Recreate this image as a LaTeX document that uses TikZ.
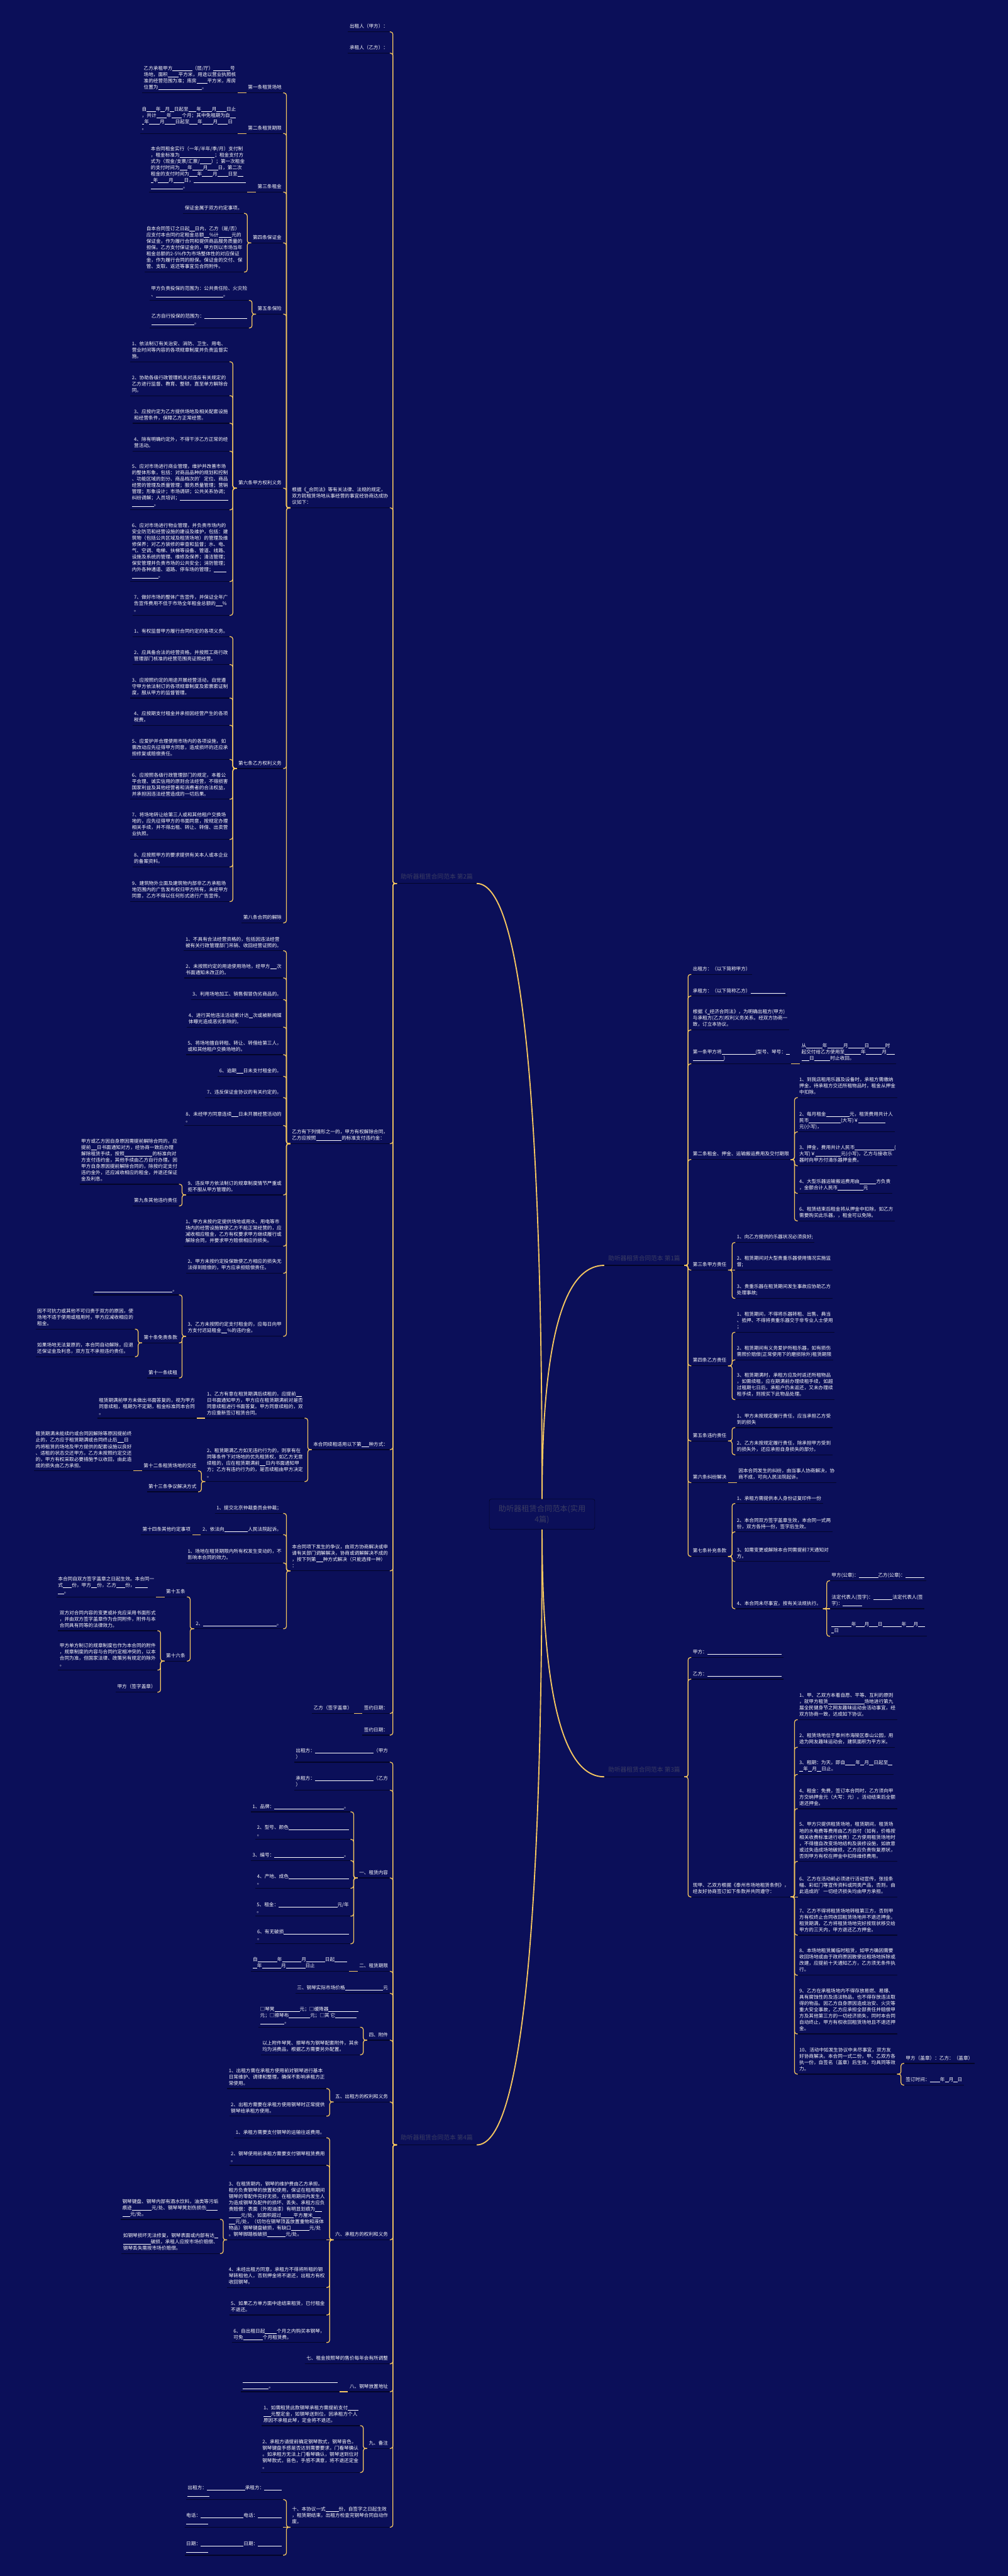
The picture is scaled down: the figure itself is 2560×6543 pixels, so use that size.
\documentclass[tikz,border=0pt]{standalone}
\usepackage{fontspec}
\setmainfont{Noto Sans CJK SC}
\usetikzlibrary{calc}

\definecolor{bgnavy}{RGB}{11,15,89}
\definecolor{gold}{RGB}{246,199,96}
\definecolor{ulnavy}{RGB}{3,5,40}
\definecolor{dimtxt}{RGB}{58,60,98}
\newcommand{\leaffont}{\fontsize{12.2pt}{16pt}\selectfont}
\newcommand{\blnk}[1]{\rule[-1.6pt]{#1pt}{0.8pt}}
\newcommand{\lk}[2]{\draw[link] (#1.south west) -- ++(-10,0) |- (#2.south east);}
\newcommand{\rk}[2]{\draw[link] (#1.south east) -- ++(10,0) |- (#2.south west);}

\begin{document}
\begin{tikzpicture}[x=1pt, y=-1pt,
  uline/.style ={append after command={(\tikzlastnode.south west) edge[draw=ulnavy, line width=2pt] (\tikzlastnode.south east)}},
  leafL/.style ={font=\leaffont, text=white, align=left, inner xsep=4pt, inner ysep=7pt, text depth=2pt, anchor=south east, uline},
  leafR/.style ={leafL, anchor=south west},
  branch/.style={font=\fontsize{15.5pt}{19pt}\selectfont, text=dimtxt, inner xsep=10pt, inner ysep=10pt, text depth=2pt, anchor=south west, uline},
  hub/.style   ={draw=ulnavy, fill=bgnavy, rounded corners=5pt, line width=1pt, font=\fontsize{19.5pt}{27pt}\selectfont, text=dimtxt, align=center, minimum width=268pt, minimum height=77pt},
  link/.style  ={draw=gold, line width=2pt, rounded corners=6pt},
  trunk/.style ={draw=gold, line width=3pt}
]
\fill[bgnavy] (0,0) rectangle (2560,6543);
\useasboundingbox (0,0) rectangle (2560,6543);

% root and the four articles
\node[hub] (root) at (1377,3846) {助听器租赁合同范本(实用\\4篇)};
\node[branch] (L2) at (1008,2244) {助听器租赁合同范本 第2篇};
\node[branch] (L1) at (1535,3214) {助听器租赁合同范本 第1篇};
\node[branch] (L3) at (1535,4513) {助听器租赁合同范本 第3篇};
\node[branch] (L4) at (1008,5448) {助听器租赁合同范本 第4篇};

% ---------------- 第2篇 (left, top)
\coordinate (L2x) at ([xshift=-18pt]L2.south west);
\node[leafL] (a1) at (L2x |- 0,81) {出租人（甲方）：};
\node[leafL] (a2) at (L2x |- 0,135) {承租人（乙方）：};
\node[leafL] (a3) at (L2x |- 0,1290) {根据《\blnk{6}合同法》等有关法律、法规的规定，\\双方就租赁场地从事经营的事宜经协商达成协\\议如下：};
\node[leafL] (a4) at (L2x |- 0,2905) {乙方有下列情形之一的，甲方有权解除合同，\\乙方应按照\blnk{65}的标准支付违约金：};
\node[leafL] (a5) at (L2x |- 0,3682) {本合同续租适用以下第\blnk{19}种方式：};
\node[leafL] (a6) at (L2x |- 0,3990) {本合同项下发生的争议，由双方协商解决或申\\请有关部门调解解决，协商或调解解决不成的\\，按下列第\blnk{18}种方式解决（只能选择一种）\\：};
\node[leafL] (a7) at (L2x |- 0,4352) {签约日期：};
\node[leafL] (a8) at (L2x |- 0,4407) {签约日期：};
\node[leafL] (a71) at ([xshift=-22pt]a7.south west) {乙方（签字盖章）};

\coordinate (a3x) at ([xshift=-18pt]a3.south west);
\node[leafL] (a31) at (a3x |- 0,236) {第一条租赁场地};
\node[leafL] (a32) at (a3x |- 0,339) {第二条租赁期限};
\node[leafL] (a33) at (a3x |- 0,488) {第三条租金};
\node[leafL] (a34) at (a3x |- 0,617) {第四条保证金};
\node[leafL] (a35) at (a3x |- 0,798) {第五条保险};
\node[leafL] (a36) at (a3x |- 0,1240) {第六条甲方权利义务};
\node[leafL] (a37) at (a3x |- 0,1952) {第七条乙方权利义务};
\node[leafL] (a38) at (a3x |- 0,2344) {第八条合同的解除};

\node[leafL] (a311) at ([xshift=-22pt]a31.south west) {乙方承租甲方\blnk{50}（层/厅）\blnk{43}号\\场地，面积\blnk{27}平方米，用途以营业执照核\\准的经营范围为准；库房\blnk{27}平方米，库房\\位置为\blnk{111}。};
\node[leafL] (a321) at ([xshift=-22pt]a32.south west) {自\blnk{23}年\blnk{11}月\blnk{11}日起至\blnk{20}年\blnk{27}月\blnk{25}日止\\，共计\blnk{26}年\blnk{27}个月；其中免租期为自\blnk{14}\\\blnk{6}年\blnk{27}月\blnk{27}日起至\blnk{20}年\blnk{27}月\blnk{26}日\\。};
\node[leafL] (a331) at ([xshift=-22pt]a33.south west) {本合同租金实行（一年/半年/季/月）支付制\\，租金标准为\blnk{89}；租金支付方\\式为（现金/支票/汇票/\blnk{29}）；第一次租金\\的支付时间为\blnk{20}年\blnk{27}月\blnk{26}日，第二次\\租金的支付时间为\blnk{20}年\blnk{27}月\blnk{27}日至\blnk{14}\\\blnk{6}年\blnk{27}月\blnk{27}日，\blnk{132}\\\blnk{82}。};

\coordinate (a34x) at ([xshift=-18pt]a34.south west);
\node[leafL] (a341) at (a34x |- 0,542) {保证金属于双方约定事项。};
\node[leafL] (a342) at (a34x |- 0,691) {自本合同签订之日起\blnk{13}日内，乙方（是/否）\\应支付本合同约定租金总额\blnk{14}\%计\blnk{33}元的\\保证金，作为履行合同和提供商品服务质量的\\担保。乙方支付保证金的，甲方则以市场当年\\租金总额的2-5\%作为市场整体性的对应保证\\金，作为履行合同的担保。保证金的交付、保\\管、支取、返还等事宜见合同附件。};

\coordinate (a35x) at ([xshift=-18pt]a35.south west);
\node[leafL] (a351) at (a35x |- 0,763) {甲方负责投保的范围为：公共责任险、火灾险\\、\blnk{171}。};
\node[leafL] (a352) at (a35x |- 0,833) {乙方自行投保的范围为：\blnk{109}\\\blnk{109}。};

\coordinate (a36x) at ([xshift=-18pt]a36.south west);
\node[leafL] (a361) at (a36x |- 0,919) {1、依法制订有关治安、消防、卫生、用电、\\营业时间等内容的各项规章制度并负责监督实\\施。};
\node[leafL] (a362) at (a36x |- 0,1005) {2、协助各级行政管理机关对违反有关规定的\\乙方进行监督、教育、整顿，直至单方解除合\\同。};
\node[leafL] (a363) at (a36x |- 0,1075) {3、应按约定为乙方提供场地及相关配套设施\\和经营条件，保障乙方正常经营。};
\node[leafL] (a364) at (a36x |- 0,1146) {4、除有明确约定外，不得干涉乙方正常的经\\营活动。};
\node[leafL] (a365) at (a36x |- 0,1295) {5、应对市场进行商业管理，维护并改善市场\\的整体形象，包括：对商品品种的规划和控制\\、功能区域的划分、商品档次的'定位、商品\\经营的管理及质量管理；服务质量管理；营销\\管理；形象设计；市场调研；公共关系协调；\\纠纷调解；人员培训；\blnk{122}\\\blnk{56}。};
\node[leafL] (a366) at (a36x |- 0,1477) {6、应对市场进行物业管理，并负责市场内的\\安全防范和经营设施的建设及维护，包括：建\\筑物（包括公共区域及租赁场地）的管理及维\\修保养；对乙方装修的审查和监督；水、电、\\气、空调、电梯、扶梯等设备、管道、线路、\\设施及系统的管理、维修及保养；清洁管理；\\保安管理并负责市场的公共安全；消防管理；\\内外各种通道、道路、停车场的管理；\blnk{33}\\\blnk{67}。};
\node[leafL] (a367) at (a36x |- 0,1563) {7、做好市场的整体广告宣传，并保证全年广\\告宣传费用不低于市场全年租金总额的\blnk{17}\%\\。};

\coordinate (a37x) at ([xshift=-18pt]a37.south west);
\node[leafL] (a371) at (a37x |- 0,1617) {1、有权监督甲方履行合同约定的各项义务。};
\node[leafL] (a372) at (a37x |- 0,1688) {2、应具备合法的经营资格，并按照工商行政\\管理部门核准的经营范围亮证照经营。};
\node[leafL] (a373) at (a37x |- 0,1773) {3、应按照约定的用途开展经营活动，自觉遵\\守甲方依法制订的各项规章制度及索票索证制\\度，服从甲方的监督管理。};
\node[leafL] (a374) at (a37x |- 0,1842) {4、应按期支付租金并承担因经营产生的各项\\税费。};
\node[leafL] (a375) at (a37x |- 0,1929) {5、应爱护并合理使用市场内的各项设施，如\\需改动应先征得甲方同意，造成损坏的还应承\\担修复或赔偿责任。};
\node[leafL] (a376) at (a37x |- 0,2030) {6、应按照各级行政管理部门的规定，本着公\\平合理、诚实信用的原则合法经营，不得损害\\国家利益及其他经营者和消费者的合法权益，\\并承担因违法经营造成的一切后果。};
\node[leafL] (a377) at (a37x |- 0,2132) {7、将场地转让给第三人或和其他租户交换场\\地的，应先征得甲方的书面同意，按规定办理\\相关手续，并不得出租、转让、转借、出卖营\\业执照。};
\node[leafL] (a378) at (a37x |- 0,2202) {8、应按照甲方的要求提供有关本人或本企业\\的备案资料。};
\node[leafL] (a379) at (a37x |- 0,2290) {9、建筑物外立面及建筑物内部非乙方承租场\\地范围内的广告发布权归甲方所有，未经甲方\\同意，乙方不得以任何形式进行广告宣传。};

\coordinate (a4x) at ([xshift=-18pt]a4.south west);
\node[leafL] (a41) at (a4x |- 0,2415) {1、不具有合法经营资格的，包括因违法经营\\被有关行政管理部门吊销、收回经营证照的。};
\node[leafL] (a42) at (a4x |- 0,2484) {2、未按照约定的用途使用场地，经甲方\blnk{17}次\\书面通知未改正的。};
\node[leafL] (a43) at (a4x |- 0,2539) {3、利用场地加工、销售假冒伪劣商品的。};
\node[leafL] (a44) at (a4x |- 0,2609) {4、进行其他违法活动累计达\blnk{10}次或被新闻媒\\体曝光造成恶劣影响的。};
\node[leafL] (a45) at (a4x |- 0,2679) {5、将场地擅自转租、转让、转借给第三人，\\或和其他租户交换场地的。};
\node[leafL] (a46) at (a4x |- 0,2734) {6、逾期\blnk{17}日未支付租金的。};
\node[leafL] (a47) at (a4x |- 0,2788) {7、违反保证金协议的有关约定的。};
\node[leafL] (a48) at (a4x |- 0,2859) {8、未经甲方同意连续\blnk{17}日未开展经营活动的\\。};
\node[leafL] (a49) at (a4x |- 0,3035) {9、违反甲方依法制订的规章制度情节严重或\\拒不服从甲方管理的。};
\node[leafL] (a4a) at (a4x |- 0,3165) {1、甲方未按约定提供场地或用水、用电等市\\场内的经营设施致使乙方不能正常经营的，应\\减收相应租金，乙方有权要求甲方继续履行或\\解除合同，并要求甲方赔偿相应的损失。};
\node[leafL] (a4b) at (a4x |- 0,3234) {2、甲方未按约定投保致使乙方相应的损失无\\法得到赔偿的，甲方应承担赔偿责任。};
\node[leafL] (a4c) at (a4x |- 0,3394) {3、乙方未按照约定支付租金的，应每日向甲\\方支付迟延租金\blnk{15}\%的违约金。};

\coordinate (a49x) at ([xshift=-18pt]a49.south west);
\node[leafL] (a491) at (a49x |- 0,3008) {甲方或乙方因自身原因需提前解除合同的，应\\提前\blnk{15}日书面通知对方，经协商一致后办理\\解除租赁手续，按照\blnk{71}的标准向对\\方支付违约金，其他手续由乙方自行办理。因\\甲方自身原因提前解除合同的，除按约定支付\\违约金外，还应减收相应的租金，并退还保证\\金及利息。};
\node[leafL] (a492) at (a49x |- 0,3063) {第九条其他违约责任};

\coordinate (a4cx) at ([xshift=-18pt]a4c.south west);
\node[leafL] (a4c1) at (a4cx |- 0,3289) {\blnk{198}。};
\node[leafL] (a4c2) at (a4cx |- 0,3411) {第十条免责条款};
\node[leafL] (a4c3) at (a4cx |- 0,3500) {第十一条续租};
\coordinate (a4c2x) at ([xshift=-18pt]a4c2.south west);
\node[leafL] (a4c21) at (a4c2x |- 0,3376) {因不可抗力或其他不可归责于双方的原因，使\\场地不适于使用或租用时，甲方应减收相应的\\租金。};
\node[leafL] (a4c22) at (a4c2x |- 0,3446) {如果场地无法复原的，本合同自动解除，应退\\还保证金及利息，双方互不承担违约责任。};

\coordinate (a5x) at ([xshift=-18pt]a5.south west);
\node[leafL] (a51) at (a5x |- 0,3602) {1、乙方有意在租赁期满后续租的，应提前\blnk{15}\\日书面通知甲方，甲方应在租赁期满前对是否\\同意续租进行书面答复。甲方同意续租的，双\\方应重新签订租赁合同。};
\node[leafL] (a52) at (a5x |- 0,3763) {2、租赁期满乙方如无违约行为的，则享有在\\同等条件下对场地的优先租赁权，如乙方无意\\续租的，应在租赁期满前\blnk{15}日内书面通知甲\\方；乙方有违约行为的，是否续租由甲方决定\\。};
\node[leafL] (a511) at ([xshift=-22pt]a51.south west) {租赁期满前甲方未做出书面答复的，视为甲方\\同意续租，租期为不定期，租金标准同本合同\\。};
\coordinate (a52x) at ([xshift=-18pt]a52.south west);
\node[leafL] (a521) at (a52x |- 0,3736) {第十二条租赁场地的交还};
\node[leafL] (a522) at (a52x |- 0,3789) {第十三条争议解决方式};
\node[leafL] (a5211) at ([xshift=-22pt]a521.south west) {租赁期满未能续约或合同因解除等原因提前终\\止的，乙方应于租赁期满或合同终止后\blnk{17}日\\内将租赁的场地及甲方提供的配套设施以良好\\、适租的状态交还甲方。乙方未按照约定交还\\的，甲方有权采取必要措施予以收回，由此造\\成的损失由乙方承担。};

\coordinate (a6x) at ([xshift=-18pt]a6.south west);
\node[leafL] (a61) at (a6x |- 0,3844) {1、提交北京仲裁委员会仲裁；};
\node[leafL] (a62) at (a6x |- 0,3898) {2、依法向\blnk{60}人民法院起诉。};
\node[leafL] (a63) at (a6x |- 0,3970) {1、场地在租赁期限内所有权发生变动的，不\\影响本合同的效力。};
\node[leafL] (a64) at (a6x |- 0,4137) {2、\blnk{187}。};
\node[leafL] (a621) at ([xshift=-22pt]a62.south west) {第十四条其他约定事项};
\coordinate (a64x) at ([xshift=-18pt]a64.south west);
\node[leafL] (a641) at (a64x |- 0,4056) {第十五条};
\node[leafL] (a642) at (a64x |- 0,4219) {第十六条};
\node[leafL] (a6411) at ([xshift=-22pt]a641.south west) {本合同自双方签字盖章之日起生效。本合同一\\式\blnk{23}份，甲方\blnk{15}份，乙方\blnk{23}份，\blnk{33}\\\blnk{15}。};
\coordinate (a642x) at ([xshift=-18pt]a642.south west);
\node[leafL] (a6421) at (a642x |- 0,4142) {双方对合同内容的变更或补充应采用书面形式\\，并由双方签字盖章作为合同附件，附件与本\\合同具有同等的法律效力。};
\node[leafL] (a6422) at (a642x |- 0,4242) {甲方单方制订的规章制度也作为本合同的附件\\，规章制度的内容与合同约定相冲突的，以本\\合同为准，但国家法律、政策另有规定的除外\\。};
\node[leafL] (a6423) at (a642x |- 0,4298) {甲方（签字盖章）};

% ---------------- 第4篇 (left, bottom)
\coordinate (L4x) at ([xshift=-18pt]L4.south west);
\node[leafL] (d1) at (L4x |- 0,4476) {出租方：\blnk{149}（甲方\\）};
\node[leafL] (d2) at (L4x |- 0,4547) {承租方：\blnk{149}（乙方\\）};
\node[leafL] (d3) at (L4x |- 0,4770) {一、租赁内容};
\node[leafL] (d4) at (L4x |- 0,5007) {二、租赁期限};
\node[leafL] (d5) at (L4x |- 0,5063) {三、钢琴实际市场价格\blnk{97}元};
\node[leafL] (d6) at (L4x |- 0,5182) {四、附件};
\node[leafL] (d7) at (L4x |- 0,5339) {五、出租方的权利和义务};
\node[leafL] (d8) at (L4x |- 0,5689) {六、承租方的权利和义务};
\node[leafL] (d9) at (L4x |- 0,6004) {七、租金按照琴的售价每年会有所调整};
\node[leafL] (d10) at (L4x |- 0,6075) {八、钢琴放置地址};
\node[leafL] (d11) at (L4x |- 0,6219) {九、备注};
\node[leafL] (d12) at (L4x |- 0,6419) {十、本协议一式\blnk{33}份，自签字之日起生效\\，租赁期结束，出租方检查完钢琴合同自动作\\废。};

\coordinate (d3x) at ([xshift=-18pt]d3.south west);
\node[leafL] (d31) at (d3x |- 0,4602) {1、品牌：\blnk{177}。};
\node[leafL] (d32) at (d3x |- 0,4672) {2、型号、颜色\blnk{153}\\。};
\node[leafL] (d33) at (d3x |- 0,4726) {3、编号：\blnk{177}。};
\node[leafL] (d34) at (d3x |- 0,4796) {4、产地、成色\blnk{153}\\。};
\node[leafL] (d35) at (d3x |- 0,4867) {5、租金：\blnk{149}元/年\\。};
\node[leafL] (d36) at (d3x |- 0,4937) {6、有无破损\blnk{165}\\。};
\node[leafL] (d41) at ([xshift=-22pt]d4.south west) {自\blnk{50}年\blnk{49}月\blnk{48}日起\blnk{32}\\\blnk{11}年\blnk{49}月\blnk{49}日止};
\coordinate (d6x) at ([xshift=-18pt]d6.south west);
\node[leafL] (d61) at (d6x |- 0,5149) {□琴凳\blnk{64}元；□缓降器\blnk{76}\\元；□擦琴布\blnk{54}元；□其 它\blnk{54}\\\blnk{62}。};
\node[leafL] (d62) at (d6x |- 0,5219) {以上附件琴凳、擦琴布为钢琴配套附件，其余\\均为消费品，根据乙方需要另外配置。};
\coordinate (d7x) at ([xshift=-18pt]d7.south west);
\node[leafL] (d71) at (d7x |- 0,5305) {1、出租方需在承租方使用前对钢琴进行基本\\日常维护、调律和整理，确保不影响承租方正\\常使用。};
\node[leafL] (d72) at (d7x |- 0,5375) {2、出租方需要在承租方使用钢琴时正常提供\\钢琴给承租方使用。};
\coordinate (d8x) at ([xshift=-18pt]d8.south west);
\node[leafL] (d81) at (d8x |- 0,5430) {1、承租方需要支付钢琴的运输往返费用。};
\node[leafL] (d82) at (d8x |- 0,5500) {2、钢琴使用前承租方需要支付钢琴租赁费用\\。};
\node[leafL] (d83) at (d8x |- 0,5689) {3、在租赁期内，钢琴的维护费由乙方承担。\\租方负责钢琴的放置和使用，保证在租用期间\\钢琴的零配件完好无损，在租用期间内发生人\\为造成钢琴及配件的损坏、丢失、承租方应负\\责赔偿：表面（外观油漆）有明显划痕为\blnk{17}\\\blnk{31}元/处，如面积超过\blnk{31}平方厘米\blnk{21}\\\blnk{17}元/处，（切勿在钢琴顶盖放置重物和液体\\物品）钢琴键盘破损，有缺口\blnk{46}元/处\\。钢琴脚踏板破损\blnk{47}元/处。};
\node[leafL] (d84) at (d8x |- 0,5810) {4、未经出租方同意，承租方不得将所租的钢\\琴转租他人，否则押金将不退还，出租方有权\\收回钢琴。};
\node[leafL] (d85) at (d8x |- 0,5880) {5、如果乙方单方面中途结束租赁，已付租金\\不退还。};
\node[leafL] (d86) at (d8x |- 0,5950) {6、自出租日起\blnk{30}个月之内购买本钢琴，\\可免\blnk{50}个月租赁费。};
\coordinate (d83x) at ([xshift=-18pt]d83.south west);
\node[leafL] (d831) at (d83x |- 0,5637) {钢琴键盘、钢琴内部有酒水饮料，油类等污垢\\痕迹\blnk{50}元/处、钢琴琴凳划伤损伤\blnk{28}\\\blnk{20}元/处。};
\node[leafL] (d832) at (d83x |- 0,5724) {如钢琴损坏无法修复，钢琴表面或内部有达\blnk{10}\\\blnk{70}破损，承租人应按市场价赔偿、\\钢琴丢失需按市场价赔偿。};
\node[leafL] (d101) at ([xshift=-22pt]d10.south west) {\blnk{242}\\\blnk{67}。};
\coordinate (d11x) at ([xshift=-18pt]d11.south west);
\node[leafL] (d111) at (d11x |- 0,6161) {1、如需租赁此款钢琴承租方需提前支付\blnk{27}\\\blnk{19}元整定金，如钢琴送到位，因承租方个人\\原因不承租此琴，定金将不退还。};
\node[leafL] (d112) at (d11x |- 0,6280) {2、承租方请提前确定钢琴款式，钢琴音色，\\钢琴键盘手感是否达到需要要求，门看琴确认\\。如承租方无法上门看琴确认，钢琴送到位对\\钢琴款式，音色，手感不满意，将不退还定金\\。};
\coordinate (d12x) at ([xshift=-18pt]d12.south west);
\node[leafL] (d121) at (d12x |- 0,6349) {出租方：\blnk{97}承租方：\blnk{44}\\\blnk{55}};
\node[leafL] (d122) at (d12x |- 0,6419) {电话：\blnk{109}电话：\blnk{60}\\\blnk{55}};
\node[leafL] (d123) at (d12x |- 0,6490) {日期：\blnk{109}日期：\blnk{60}\\\blnk{55}};

% ---------------- 第1篇 (right, top)
\coordinate (L1x) at ([xshift=18pt]L1.south east);
\node[leafR] (b1) at (L1x |- 0,2475) {出租方：（以下简称甲方）};
\node[leafR] (b2) at (L1x |- 0,2530) {承租方：（以下简称乙方）\blnk{89}};
\node[leafR] (b3) at (L1x |- 0,2616) {根据《\blnk{6}经济合同法》，为明确出租方(甲方)\\与承租方(乙方)权利义务关系。经双方协商一\\致，订立本协议。};
\node[leafR] (b4) at (L1x |- 0,2702) {第一条甲方将\blnk{86}(型号、琴号：\blnk{9}\\\blnk{78})};
\node[leafR] (b5) at (L1x |- 0,2945) {第二条租金、押金、运输搬运费用及交付期限};
\node[leafR] (b6) at (L1x |- 0,3226) {第三条甲方责任};
\node[leafR] (b7) at (L1x |- 0,3469) {第四条乙方责任};
\node[leafR] (b8) at (L1x |- 0,3660) {第五条违约责任};
\node[leafR] (b9) at (L1x |- 0,3766) {第六条纠纷解决};
\node[leafR] (b10) at (L1x |- 0,3953) {第七条补充条款};

\node[leafR] (b41) at ([xshift=22pt]b4.south east) {从\blnk{41}年\blnk{41}月\blnk{41}日\blnk{41}时\\起交付给乙方使用至\blnk{41}年\blnk{41}月\blnk{20}\\\blnk{20}日\blnk{41}时止收回。};
\coordinate (b5x) at ([xshift=18pt]b5.south east);
\node[leafR] (b51) at (b5x |- 0,2788) {1、到我店租用乐器及设备时，承租方需缴纳\\押金，待承租方交还所租物品时，租金从押金\\中扣除。};
\node[leafR] (b52) at (b5x |- 0,2875) {2、每月租金\blnk{60}元，租赁费用共计人\\民币\blnk{81}(大写)￥\blnk{68}\\元(小写)，};
\node[leafR] (b53) at (b5x |- 0,2961) {3、押金，费用共计人民币\blnk{100}(\\大写)￥\blnk{65}元(小写)，乙方与接收乐\\器时向甲方付清乐器押金费。};
\node[leafR] (b54) at (b5x |- 0,3031) {4、大型乐器运输搬运费用由\blnk{42}方负责\\，金额合计人民币\blnk{65}元};
\node[leafR] (b55) at (b5x |- 0,3101) {6、租赁结束后租金将从押金中扣除，如乙方\\需要购买此乐器，，租金可以免除。};
\coordinate (b6x) at ([xshift=18pt]b6.south east);
\node[leafR] (b61) at (b6x |- 0,3156) {1、向乙方提供的乐器状况必须良好;};
\node[leafR] (b62) at (b6x |- 0,3226) {2、租赁期间对大型贵重乐器使用情况实施监\\督;};
\node[leafR] (b63) at (b6x |- 0,3298) {3、贵重乐器在租赁期间发生事故应协助乙方\\处理事故;};
\coordinate (b7x) at ([xshift=18pt]b7.south east);
\node[leafR] (b71) at (b7x |- 0,3384) {1、租赁期间，不得将乐器转租、出售、典当\\、抵押、不得将贵重乐器交于非专业人士使用\\；};
\node[leafR] (b72) at (b7x |- 0,3454) {2、租赁期间有义务爱护所租乐器，如有损伤\\需照价赔偿(正常使用下的磨损除外)租赁期限};
\node[leafR] (b73) at (b7x |- 0,3555) {3、租赁期满时，承租方应及时返还所租物品\\，如需续租，应在期满前办理续租手续，如超\\过租期七日后，承租户仍未返还，又未办理续\\租手续，则按买下此物品处理。};
\coordinate (b8x) at ([xshift=18pt]b8.south east);
\node[leafR] (b81) at (b8x |- 0,3626) {1、甲方未按规定履行责任，应当承担乙方受\\到的损失};
\node[leafR] (b82) at (b8x |- 0,3695) {2、乙方未按规定履行责任，除承担甲方受到\\的损失外，还应承担自身损失的部分。};
\node[leafR] (b91) at ([xshift=22pt]b9.south east) {因本合同发生的纠纷，由当事人协商解决，协\\商不成，可向人民法院起诉。};
\coordinate (b10x) at ([xshift=18pt]b10.south east);
\node[leafR] (b101) at (b10x |- 0,3819) {1、承租方需提供本人身份证复印件一份};
\node[leafR] (b102) at (b10x |- 0,3891) {2、本合同双方签字盖章生效，本合同一式两\\份，双方各持一份，签字后生效。};
\node[leafR] (b103) at (b10x |- 0,3966) {3、如需变更或解除本合同需提前7天通知对\\方。};
\node[leafR] (b104) at (b10x |- 0,4086) {4、本合同未尽事宜，按有关法规执行。};
\coordinate (b104x) at ([xshift=18pt]b104.south east);
\node[leafR] (b1041) at (b104x |- 0,4015) {甲方(公章)：\blnk{49}乙方(公章)：\blnk{48}};
\node[leafR] (b1042) at (b104x |- 0,4086) {法定代表人(签字)：\blnk{49}法定代表人(签\\字)：\blnk{49}};
\node[leafR] (b1043) at (b104x |- 0,4156) {\blnk{50}年\blnk{21}月\blnk{22}日\blnk{48}年\blnk{18}月\blnk{18}\\\blnk{6}日};

% ---------------- 第3篇 (right, bottom)
\coordinate (L3x) at ([xshift=18pt]L3.south east);
\node[leafR] (c1) at (L3x |- 0,4210) {甲方：\blnk{189}};
\node[leafR] (c2) at (L3x |- 0,4265) {乙方：\blnk{189}};
\node[leafR] (c3) at (L3x |- 0,4818) {现甲、乙双方根据《泰州市场地租赁条例》，\\经友好协商签订如下条款并共同遵守：};
\coordinate (c3x) at ([xshift=18pt]c3.south east);
\node[leafR] (c31) at (c3x |- 0,4368) {1、甲、乙双方本着自愿、平等、互利的原则\\，就甲方租赁\blnk{92}场地进行第九\\届全民健身节之网友趣味运动会活动事宜，经\\双方协商一致，达成如下协议。};
\node[leafR] (c32) at (c3x |- 0,4438) {2、租赁场地位于泰州市海陵区泰山公园，用\\途为网友趣味运动会，建筑面积为平方米。};
\node[leafR] (c33) at (c3x |- 0,4507) {3、租期：为天，即自\blnk{26}年\blnk{10}月\blnk{12}日起至\blnk{10}\\\blnk{10}年\blnk{10}月\blnk{12}日止。};
\node[leafR] (c34) at (c3x |- 0,4594) {4、租金：免费，签订本合同时，乙方须向甲\\方交纳押金元（大写：元）。活动结束后全额\\退还押金。};
\node[leafR] (c35) at (c3x |- 0,4728) {5、甲方只提供租赁场地，租赁期间，租赁场\\地的水电费等费用由乙方自付（如有，价格按\\相关收费标准进行收费）乙方使用租赁场地时\\，不得擅自改变场地结构及装修设施，如故意\\或过失造成场地破损，乙方应负责恢复原状，\\否则甲方有权在押金中扣除维修费用。};
\node[leafR] (c36) at (c3x |- 0,4818) {6、乙方在活动前必须进行活动宣传，张挂条\\幅、彩虹门等宣传资料或同类产品，否则，由\\此造成的'一切经济损失均由甲方承担。};
\node[leafR] (c37) at (c3x |- 0,4915) {7、乙方不得将租赁场地转租第三方，否则甲\\方有权终止合同收回租赁场地并不退还押金。\\租赁期满，乙方将租赁场地完好按现状移交给\\甲方的三天内，甲方退还乙方押金。};
\node[leafR] (c38) at (c3x |- 0,5017) {8、本场地租赁属临时租赁，如甲方确因需要\\收回场地或由于政府原因致使出租场地拆除或\\改建，应提前十天通知乙方，乙方须无条件执\\行。};
\node[leafR] (c39) at (c3x |- 0,5166) {9、乙方在承租场地内不得存放易燃、易爆、\\具有腐蚀性的及违法物品，也不得存放违法取\\得的物品。因乙方自身原因造成治安、火灾等\\重大安全事故，乙方应承担全部责任并赔偿甲\\方及其他第三方的一切经济损失，同时本合同\\自动终止，甲方有权收回租赁场地且不退还押\\金。};
\node[leafR] (c3a) at (c3x |- 0,5268) {10、活动中如发生协议中未尽事宜，双方友\\好协商解决。本合同一式二份，甲、乙双方各\\执一份，自签名（盖章）后生效，均具同等效\\力。};
\coordinate (c3ax) at ([xshift=18pt]c3a.south east);
\node[leafR] (c3a1) at (c3ax |- 0,5241) {甲方（盖章）：乙方：（盖章）};
\node[leafR] (c3a2) at (c3ax |- 0,5296) {签订时间：\blnk{26}年\blnk{10}月\blnk{10}日};

% ---------------- connectors
\foreach \lab/\an/\sd in {L2/south east/north, L1/south west/north, L3/south west/south, L4/south east/south} {
  \coordinate (k) at (root.\sd |- \lab.\an);
  \draw[trunk] (root.\sd) .. controls ($(root.\sd)!0.667!(k)$) and ($(\lab.\an)!0.667!(k)$) .. (\lab.\an);
}
\foreach \c in {a1,a2,a3,a4,a5,a6,a7,a8} {\lk{L2}{\c}}
\foreach \c in {a31,a32,a33,a34,a35,a36,a37,a38} {\lk{a3}{\c}}
\foreach \c in {a341,a342} {\lk{a34}{\c}}
\foreach \c in {a351,a352} {\lk{a35}{\c}}
\foreach \c in {a361,a362,a363,a364,a365,a366,a367} {\lk{a36}{\c}}
\foreach \c in {a371,a372,a373,a374,a375,a376,a377,a378,a379} {\lk{a37}{\c}}
\foreach \c in {a41,a42,a43,a44,a45,a46,a47,a48,a49,a4a,a4b,a4c} {\lk{a4}{\c}}
\foreach \c in {a491,a492} {\lk{a49}{\c}}
\foreach \c in {a4c1,a4c2,a4c3} {\lk{a4c}{\c}}
\foreach \c in {a4c21,a4c22} {\lk{a4c2}{\c}}
\foreach \c in {a51,a52} {\lk{a5}{\c}}
\foreach \c in {a521,a522} {\lk{a52}{\c}}
\foreach \c in {a61,a62,a63,a64} {\lk{a6}{\c}}
\foreach \c in {a641,a642} {\lk{a64}{\c}}
\foreach \c in {a6421,a6422,a6423} {\lk{a642}{\c}}
\foreach \c in {d1,d2,d3,d4,d5,d6,d7,d8,d9,d10,d11,d12} {\lk{L4}{\c}}
\foreach \c in {d31,d32,d33,d34,d35,d36} {\lk{d3}{\c}}
\foreach \c in {d61,d62} {\lk{d6}{\c}}
\foreach \c in {d71,d72} {\lk{d7}{\c}}
\foreach \c in {d81,d82,d84,d85,d86} {\lk{d8}{\c}}
\foreach \c in {d831,d832} {\lk{d83}{\c}}
\foreach \c in {d111,d112} {\lk{d11}{\c}}
\foreach \c in {d121,d123} {\lk{d12}{\c}}
\foreach \p/\c in {a31/a311,a32/a321,a33/a331,a51/a511,a521/a5211,a62/a621,a641/a6411,a7/a71,d4/d41,d8/d83,d10/d101,d12/d122}
  {\draw[link] (\p.south west) -- (\c.south east);}
\foreach \c in {b1,b2,b3,b4,b5,b6,b7,b8,b9,b10} {\rk{L1}{\c}}
\foreach \c in {b51,b52,b53,b54,b55} {\rk{b5}{\c}}
\foreach \c in {b61,b63} {\rk{b6}{\c}}
\foreach \c in {b71,b72,b73} {\rk{b7}{\c}}
\foreach \c in {b81,b82} {\rk{b8}{\c}}
\foreach \c in {b101,b102,b103,b104} {\rk{b10}{\c}}
\foreach \c in {b1041,b1043} {\rk{b104}{\c}}
\foreach \c in {c1,c2,c3} {\rk{L3}{\c}}
\foreach \c in {c31,c32,c33,c34,c35,c37,c38,c39,c3a} {\rk{c3}{\c}}
\foreach \c in {c3a1,c3a2} {\rk{c3a}{\c}}
\foreach \p/\c in {b4/b41,b6/b62,b9/b91,b104/b1042,c3/c36}
  {\draw[link] (\p.south east) -- (\c.south west);}
\end{tikzpicture}
\end{document}
